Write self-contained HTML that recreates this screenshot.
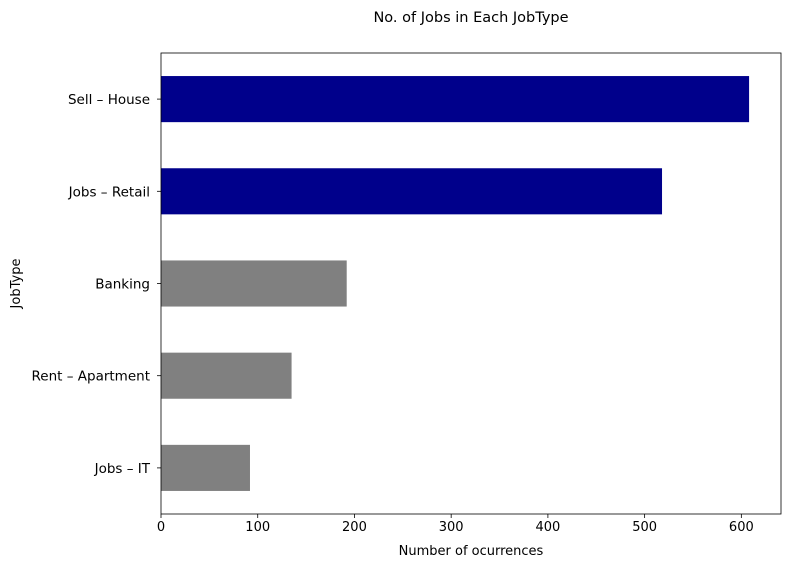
<!DOCTYPE html>
<html><head><meta charset="utf-8"><style>
body{margin:0;background:#fff;font-family:"Liberation Sans","DejaVu Sans",sans-serif;}
svg text{font-family:"DejaVu Sans","Liberation Sans",sans-serif;fill:#000;}
</style></head><body>
<svg id="c" width="791" height="568" xmlns="http://www.w3.org/2000/svg"></svg>
<script>
const categories = ["Sell – House","Jobs – Retail","Banking","Rent – Apartment","Jobs – IT"];
const counts = [608, 518, 192, 135, 92];
const highlighted = [true, true, false, false, false];
const xTicks = [0,100,200,300,400,500,600];

const svg = document.getElementById('c');
const NS = "http://www.w3.org/2000/svg";
const L=161, R=781, T=53, B=514;
const xMax = 641;
const x = v => L + v/xMax*(R-L);
const n = categories.length;
const yUnit = (B-T)/n;
const yC = i => T + yUnit*(i+0.5);
function mk(tag, attrs, text){const e=document.createElementNS(NS,tag);for(const k in attrs)e.setAttribute(k,attrs[k]);if(text!==undefined)e.textContent=text;svg.appendChild(e);return e;}

counts.forEach((v,i)=>{
  const r = mk('rect',{x:L,y:yC(i)-yUnit*0.25,width:x(v)-L,height:yUnit*0.5,fill:highlighted[i]?'#00008b':'#808080'});
  
  
  mk('line',{x1:L,x2:L-4,y1:yC(i),y2:yC(i),stroke:'#000','stroke-width':0.8});
  const lb = mk('text',{x:L-11,y:yC(i)+5,'text-anchor':'end','font-size':13.5},categories[i]);
  
  
});
xTicks.forEach(v=>{
  mk('line',{x1:x(v),x2:x(v),y1:B,y2:B+4,stroke:'#000','stroke-width':0.8});
  const lb = mk('text',{x:x(v),y:B+17,'text-anchor':'middle','font-size':13},String(v));
  
  
});
const fr = mk('rect',{x:L,y:T,width:R-L,height:B-T,fill:'none',stroke:'#000','stroke-width':0.8});


const tt = mk('text',{x:(L+R)/2,y:22,'text-anchor':'middle','font-size':14.5},'No. of Jobs in Each JobType');


const xt = mk('text',{x:(L+R)/2,y:555,'text-anchor':'middle','font-size':13},'Number of ocurrences');


const yt = mk('text',{x:20,y:(T+B)/2,'text-anchor':'middle','font-size':13,transform:`rotate(-90 20 ${(T+B)/2})`},'JobType');


</script>
</body></html>
